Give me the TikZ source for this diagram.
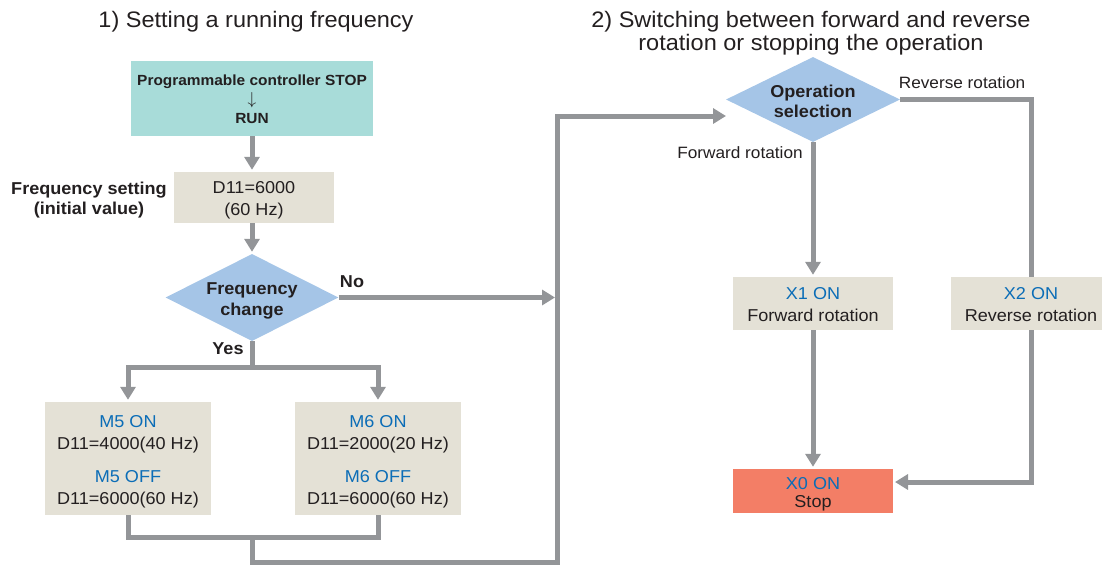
\documentclass[tikz,border=0pt]{standalone}
\usepackage{fontspec}
\setmainfont{Liberation Sans}[FakeStretch=1.05]
\usetikzlibrary{arrows.meta,shapes.geometric}
\definecolor{cteal}{HTML}{A8DCD9}
\definecolor{cbeige}{HTML}{E4E1D6}
\definecolor{cdiam}{HTML}{A5C5E7}
\definecolor{csalmon}{HTML}{F37E66}
\definecolor{cline}{HTML}{939598}
\definecolor{cblue}{HTML}{0B6DB7}
\definecolor{ctext}{HTML}{231F20}
\begin{document}
\begin{tikzpicture}[x=1pt,y=-1pt,
  every node/.style={text=ctext},
  box/.style={rectangle, fill=cbeige, inner sep=0pt},
  btxt/.style={align=center, inner sep=0pt, font=\fontsize{17.2}{22}\selectfont},
  diam/.style={diamond, fill=cdiam, inner sep=0pt, minimum width=173pt, minimum height=87pt},
  boldtxt/.style={font=\bfseries\fontsize{17.2}{20.5}\selectfont, align=center},
  lbl/.style={font=\fontsize{16.4}{19}\selectfont},
  ttl/.style={font=\fontsize{22.4}{23}\selectfont, anchor=base},
  conn/.style={draw=cline, line width=5pt},
  arr/.style={conn, -{Triangle[width=15pt,length=13pt]}, shorten >=2pt}
]
\useasboundingbox (0,0) rectangle (1102,565);
\clip (0,0) rectangle (1102,565);

% titles
\node[ttl] (t1) at (256,27) {1) Setting a running frequency};
\node[ttl] (t2a) at (811,27) {2) Switching between forward and reverse};
\node[ttl] (t2b) at (811,50) {rotation or stopping the operation};

% left part
\node[fill=cteal, minimum width=242pt, minimum height=75pt, inner sep=0pt] (stop) at (252,98.5) {};
\node[align=center, inner sep=0pt, font=\bfseries\fontsize{14.7}{19}\selectfont] (stopt) at (252,99.5)
      {Programmable controller STOP\\{\mdseries\fontsize{19}{19}\selectfont$\downarrow$}\\RUN};
\node[box, minimum width=160pt, minimum height=51pt] (d11) at (254,197.5) {};
\node[btxt] (d11t) at (254,200.5) {D11=6000\\(60 Hz)};
\node[boldtxt] (flab) at (89,200) {Frequency setting\\(initial value)};
\node[diam] (fc) at (252,297.5) {};
\node[boldtxt] (fct) at (252,301) {Frequency\\change};
\node[boldtxt] (no) at (352,282) {No};
\node[boldtxt] (yes) at (228,349) {Yes};
\node[box, minimum width=166pt, minimum height=113pt] (m5) at (128,458.5) {};
\node[btxt] (m5t) at (128,462)
  {{\color{cblue}M5 ON}\\D11=4000(40 Hz)\\[11pt]{\color{cblue}M5 OFF}\\D11=6000(60 Hz)};
\node[box, minimum width=166pt, minimum height=113pt] (m6) at (378,458.5) {};
\node[btxt] (m6t) at (378,462)
  {{\color{cblue}M6 ON}\\D11=2000(20 Hz)\\[11pt]{\color{cblue}M6 OFF}\\D11=6000(60 Hz)};

\coordinate (bus) at (557.5,297.5);
\coordinate (yj) at (252,367);
\coordinate (bj) at (252,537.5);
\coordinate (lowbus) at (557.5,562.5);
\coordinate (topbus) at (557.5,116);
\coordinate (opin) at (728,116);

\draw[arr] (stop.south) -- (stop.south |- d11.north);
\draw[arr] (d11.south -| fc.north) -- (fc.north);
\draw[arr, shorten >=2.5pt] (fc.east) -- (bus);
\draw[conn] (fc.south) -- (yj);
\draw[arr] (yj) -| (m5.north);
\draw[arr] (yj) -| (m6.north);
\draw[conn] (m5.south) |- (bj) -| (m6.south);
\draw[arr] (bj) |- (lowbus) -- (topbus) -- (opin);

% right part
\node[diam, minimum width=174pt, minimum height=85pt] (op) at (813,99.5) {};
\node[boldtxt] (opt) at (813,101.5) {Operation\\selection};
\node[lbl] (rl) at (962,83) {Reverse rotation};
\node[lbl] (fl) at (740,153) {Forward rotation};
\node[box, minimum width=160pt, minimum height=53pt] (x1) at (813,303.5) {};
\node[btxt] (x1t) at (813,304.5) {{\color{cblue}X1 ON}\\Forward rotation};
\node[box, minimum width=160pt, minimum height=53pt] (x2) at (1031,303.5) {};
\node[btxt] (x2t) at (1031,304.5) {{\color{cblue}X2 ON}\\Reverse rotation};
\node[box, fill=csalmon, minimum width=160pt, minimum height=44pt] (x0) at (813,491) {};
\node[btxt, font=\fontsize{17.2}{18}\selectfont] (x0t) at (813,494) {{\color{cblue}X0 ON}\\Stop};
\coordinate (x0in) at (893,482);

\draw[arr] (op.south) -- (x1.north);
\draw[conn] (op.east) -| (x2.north);
\draw[arr] (x2.south) |- (x0in);
\draw[arr] (x1.south) -- (x0.north);
\end{tikzpicture}
\end{document}
